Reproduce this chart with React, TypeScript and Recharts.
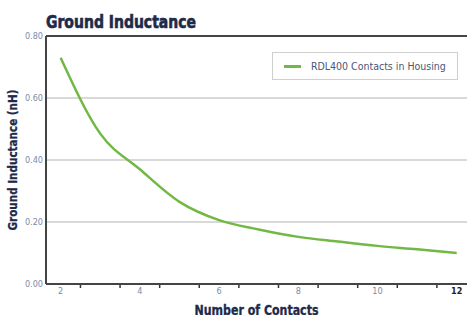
import { LineChart, Line, XAxis, YAxis, CartesianGrid, ReferenceLine } from 'recharts';

const contacts = [2, 3, 4, 5, 6, 7, 8, 9, 10, 11, 12];
const inductance = [0.73, 0.485, 0.37, 0.265, 0.206, 0.176, 0.152, 0.137, 0.123, 0.112, 0.1];
const xTicks = [2, 4, 6, 8, 10, 12];
const xMinorTicks = [2.5, 3.5, 4.5, 5.5, 6.5, 7.5, 8.5, 9.5, 10.5, 11.5];
const yTicks = [0, 0.2, 0.4, 0.6, 0.8];
const seriesName = 'RDL400 Contacts in Housing';

const data = contacts.map((n, i) => ({ n, value: inductance[i] }));
const allXTicks = [...xTicks, ...xMinorTicks].sort((a, b) => a - b);

const NAVY = '#1e2a4a';
const TICK = '#7c8aa8';
const GREEN = '#72b844';
const FONT = '"DejaVu Sans Condensed", "Liberation Sans", Arial, sans-serif';

// major ticks get a label, minor ticks get a short mark under the axis
const XTick = (props: any) => {
  const { x, y, payload } = props;
  if (!xTicks.includes(payload.value)) {
    return <line x1={x} x2={x} y1={y - 5} y2={y - 2} stroke="#333" strokeWidth={1.5} />;
  }
  const last = payload.value === 12;
  return (
    <text x={x} y={y + 4} textAnchor="middle" fontFamily={FONT} fontSize={9}
      fill={last ? '#222' : TICK} fontWeight={last ? 700 : 400}>
      {payload.value}
    </text>
  );
};

export default function App() {
  return (
    <div style={{ position: 'absolute', left: 0, top: 0, width: 469, height: 315, background: '#fff', overflow: 'hidden' }}>
      <svg style={{ position: 'absolute', left: 0, top: 0 }} width={469} height={36}>
        <text x={46} y={28} fontFamily={FONT} fontWeight={700} fontSize={18} fill={NAVY}
          stroke={NAVY} strokeWidth={0.6} textLength={150} lengthAdjust="spacingAndGlyphs">Ground Inductance</text>
      </svg>
      <LineChart width={469} height={315} data={data} margin={{ top: 36, right: 2, left: 0, bottom: 0 }}>
        <CartesianGrid vertical={false} stroke="#cccccc" strokeWidth={1.5} />
        <XAxis dataKey="n" type="number" domain={[1.63, 12.26]} ticks={allXTicks} interval={0} allowDataOverflow
          height={31} tickLine={false} tickSize={0} tickMargin={6} tick={<XTick />}
          axisLine={{ stroke: '#444', strokeWidth: 2 }}
          label={({ viewBox }: any) => (
            <text x={viewBox.x + viewBox.width / 2} y={315} textAnchor="middle" fontFamily={FONT}
              fontWeight={700} fontSize={14} fill={NAVY} stroke={NAVY} strokeWidth={0.3} textLength={124}
              lengthAdjust="spacingAndGlyphs">Number of Contacts</text>
          )} />
        <YAxis domain={[0, 0.8]} ticks={yTicks} width={46} tickLine={false} tickSize={0} tickMargin={3}
          tickFormatter={(v: number) => v.toFixed(2)}
          tick={{ fontFamily: FONT, fontSize: 9, fill: TICK }}
          axisLine={{ stroke: '#444', strokeWidth: 2 }}
          label={({ viewBox }: any) => (
            <text x={12} y={viewBox.y + viewBox.height / 2} textAnchor="middle" dominantBaseline="central"
              transform={`rotate(-90 12 ${viewBox.y + viewBox.height / 2})`} fontFamily={FONT}
              fontWeight={700} fontSize={12.5} fill={NAVY} stroke={NAVY} strokeWidth={0.3} textLength={141}
              lengthAdjust="spacingAndGlyphs">Ground Inductance (nH)</text>
          )} />
        <ReferenceLine y={0.8} stroke="#444" strokeWidth={2} />
        <Line type="monotone" dataKey="value" name={seriesName} stroke={GREEN} strokeWidth={2.5}
          dot={false} isAnimationActive={false} />
      </LineChart>
      <div style={{
        position: 'absolute', left: 272, top: 52, width: 184, height: 26, border: '1.5px solid #cfcfcf', background: '#fff',
        display: 'flex', alignItems: 'center', fontFamily: FONT, fontSize: 10.5, color: '#4a5678',
      }}>
        <span style={{ display: 'inline-block', width: 17, height: 3, background: GREEN, margin: '0 10px 0 11px' }} />
        {seriesName}
      </div>
    </div>
  );
}
